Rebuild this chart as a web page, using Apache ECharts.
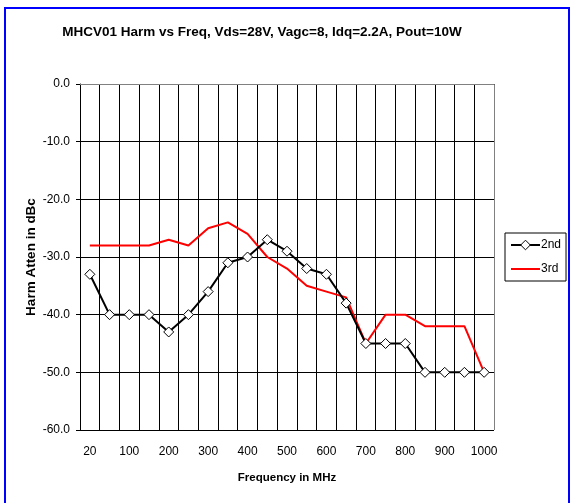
<!DOCTYPE html>
<html>
<head>
<meta charset="utf-8">
<script src="https://cdn.jsdelivr.net/npm/echarts@6/dist/echarts.min.js"></script>
<style>
html,body{margin:0;padding:0;background:#fff;}
#c{width:571px;height:503px;}
</style>
</head>
<body>
<div id="c"></div>
<script>
const categories = ['20','50','100','150','200','250','300','350','400','450','500','550','600','650','700','750','800','850','900','950','1000'];
const second = [-33,-40,-40,-40,-43,-40,-36,-31,-30,-27,-29,-32,-33,-38,-45,-45,-45,-50,-50,-50,-50];
const third = [-28,-28,-28,-28,-27,-28,-25,-24,-26,-30,-32,-35,-36,-37,-45,-40,-40,-42,-42,-42,-50];
const yTicks = [0,-10,-20,-30,-40,-50,-60];

const FONT = '"Liberation Sans", Arial, sans-serif';
const chart = echarts.init(document.getElementById('c'), null, {renderer:'canvas'});
chart.setOption({
  backgroundColor: '#fff',
  animation: false,
  title: {
    text: 'MHCV01 Harm vs Freq, Vds=28V, Vagc=8, Idq=2.2A, Pout=10W',
    left: 257, top: 20, textAlign: 'center',
    textStyle: {fontFamily: FONT, fontSize: 13.5, fontWeight: 'bold', color: '#000'}
  },
  graphic: [{
    type: 'rect', shape: {x: 5, y: 8, width: 564, height: 510},
    style: {fill: 'none', stroke: '#0000ff', lineWidth: 2}, silent: true
  }, {
    type: 'polyline', shape: {points: [[80,84.5],[494.5,84.5],[494.5,430]]},
    style: {fill: 'none', stroke: '#808080', lineWidth: 1}, z: 1
  }],
  legend: {
    data: [
      {name: '2nd', itemStyle: {color: '#fff', borderColor: '#000', borderWidth: 1}},
      {name: '3rd', icon: 'path://M0,9 L29,9 L29,11 L0,11 Z'}
    ],
    orient: 'vertical',
    left: 505, top: 233,
    padding: [6, 5, 6, 5],
    itemWidth: 29, itemHeight: 12, itemGap: 12,
    borderColor: '#000', borderWidth: 1,
    backgroundColor: '#fff',
    textStyle: {fontFamily: FONT, fontSize: 12, color: '#000', padding: [0,0,0,-4]}
  },
  grid: {left: 80, top: 84, right: 77, bottom: 73, containLabel: false},
  xAxis: {
    type: 'category',
    data: categories,
    boundaryGap: true,
    name: 'Frequency in MHz',
    nameLocation: 'middle',
    nameGap: 42,
    nameTextStyle: {fontFamily: FONT, fontSize: 11.5, fontWeight: 'bold', color: '#000'},
    axisLine: {lineStyle: {color: '#000', width: 1}},
    axisTick: {show: true, interval: 0, length: 5, lineStyle: {color: '#000'}},
    axisLabel: {interval: 1, fontFamily: FONT, fontSize: 12, color: '#000', margin: 16},
    splitLine: {show: true, interval: 0, lineStyle: {color: '#000', width: 1}}
  },
  yAxis: {
    type: 'value',
    min: -60, max: 0, interval: 10,
    name: 'Harm Atten in dBc',
    nameLocation: 'middle',
    nameGap: 42,
    nameMoveOverlap: false,
    nameRotate: 90,
    nameTextStyle: {fontFamily: FONT, fontSize: 13.5, fontWeight: 'bold', color: '#000'},
    axisLine: {show: true, lineStyle: {color: '#000', width: 1}},
    axisTick: {show: true, length: 4, lineStyle: {color: '#000'}},
    axisLabel: {fontFamily: FONT, fontSize: 12, color: '#000', margin: 10,
      formatter: v => yTicks.includes(v) ? v.toFixed(1) : ''},
    splitLine: {show: true, lineStyle: {color: '#000', width: 1}}
  },
  series: [{
    name: '3rd', type: 'line', data: third, z: 2,
    symbol: 'none', showSymbol: false,
    lineStyle: {color: '#ff0000', width: 2},
    itemStyle: {color: '#ff0000'}
  }, {
    name: '2nd', type: 'line', data: second, z: 3,
    symbol: 'diamond', symbolSize: 10, showSymbol: true,
    lineStyle: {color: '#000', width: 2},
    itemStyle: {color: '#fff', borderColor: '#000', borderWidth: 1}
  }]
});
</script>
</body>
</html>
